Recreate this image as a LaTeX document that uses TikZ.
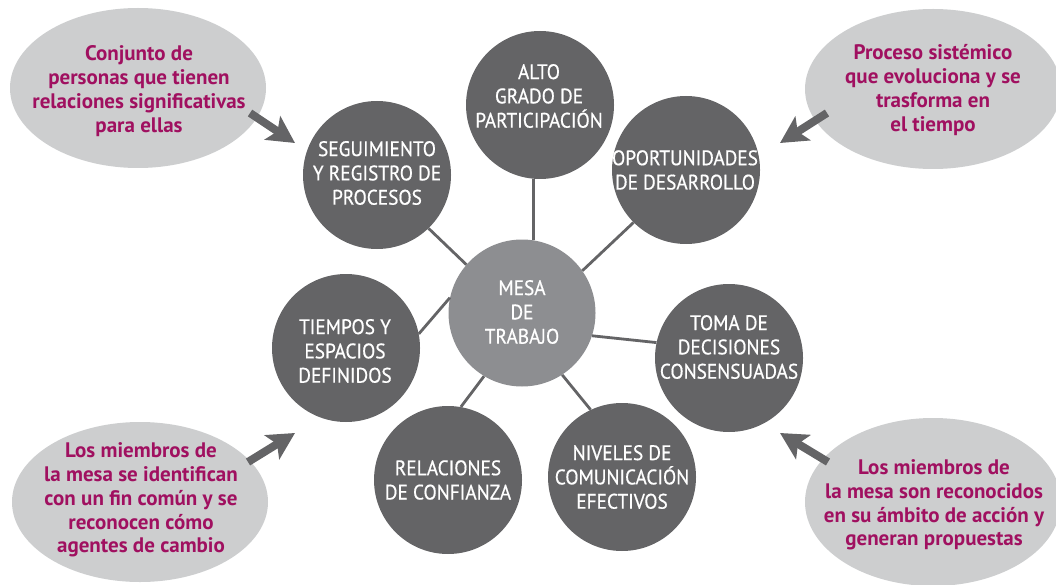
\documentclass[tikz,border=0pt]{standalone}
\usepackage{fontspec}
\setmainfont{PT Sans}
\newfontfamily\capsfont{PT Sans}[FakeStretch=0.92,FakeBold=0.6]
\usetikzlibrary{arrows.meta,shapes.geometric}
\definecolor{dk}{RGB}{100,100,102}
\definecolor{md}{RGB}{141,142,145}
\definecolor{lt}{RGB}{205,206,207}
\definecolor{mg}{RGB}{160,16,96}
\begin{document}
\begin{tikzpicture}[x=1pt,y=-1pt,
  circ/.style={circle,fill=dk,minimum size=148pt,inner sep=0pt},
  ctext/.style={text=white,align=center,inner sep=0pt,font=\capsfont\fontsize{21}{24.3}\selectfont},
  ell/.style={ellipse,fill=lt,minimum width=256pt,minimum height=160pt,inner sep=0pt},
  etext/.style={text=mg,align=center,inner sep=0pt,font=\bfseries\fontsize{21}{23.8}\selectfont},
  conn/.style={draw=dk,line width=2.8pt},
  bigarrow/.style={draw=dk,line width=8pt,-{Stealth[length=27pt,width=28pt,inset=6pt]}}
]
\useasboundingbox (0,0) rectangle (1056,585);
% ellipses
\node[ell] (etl) at (138,88) {};
\node[ell] (etr) at (933,89) {};
\node[ell] (ebl) at (140,502) {};
\node[ell,minimum height=168pt] (ebr) at (933,502) {};
\node[etext] (etlt) at (139,91) {Conjunto de\\personas que tienen\\relaciones significativas\\para ellas};
\node[etext] (etrt) at (933,90) {Proceso sistémico\\que evoluciona y se\\trasforma en\\el tiempo};
\node[etext] (eblt) at (141,500) {Los miembros de\\la mesa se identifican\\con un fin común y se\\reconocen cómo\\agentes de cambio};
\node[etext] (ebrt) at (934,505) {Los miembros de\\la mesa son reconocidos\\en su ámbito de acción y\\generan propuestas};
% arrows
\coordinate (a1s) at (250,113); \coordinate (a1e) at (295,143);
\coordinate (a2s) at (827,113); \coordinate (a2e) at (780,143);
\coordinate (a3s) at (248,462); \coordinate (a3e) at (295,433);
\coordinate (a4s) at (828,462); \coordinate (a4e) at (780,433);
\draw[bigarrow] (a1s) -- (a1e);
\draw[bigarrow] (a2s) -- (a2e);
\draw[bigarrow] (a3s) -- (a3e);
\draw[bigarrow] (a4s) -- (a4e);
% circles
\node[circ,fill=md,minimum size=147pt] (mesa) at (522,313) {};
\node[circ] (alto) at (540,105) {};
\node[circ] (opp) at (686,170) {};
\node[circ] (toma) at (729,358) {};
\node[circ] (niv) at (622,477) {};
\node[circ] (rel) at (448,480) {};
\node[circ] (tie) at (346,348) {};
\node[circ] (seg) at (377,175) {};
% connectors
\draw[conn] (alto.-95) -- (mesa.81);
\draw[conn] (seg.-46) -- (mesa.139);
\draw[conn] (opp.-135) -- (mesa.35);
\draw[conn] (tie.11) -- (mesa.168);
\draw[conn] (toma.168) -- (mesa.-18);
\draw[conn] (rel.80) -- (mesa.-121);
\draw[conn] (niv.115) -- (mesa.-57);
% texts
\node[ctext] (mesat) at (522,312) {MESA\\DE\\TRABAJO};
\node[ctext] (altot) at (539,96) {ALTO\\GRADO DE\\PARTICIPACIÓN};
\node[ctext] (oppt) at (685,170) {OPORTUNIDADES\\DE DESARROLLO};
\node[ctext] (tomat) at (729,347) {TOMA DE\\DECISIONES\\CONSENSUADAS};
\node[ctext] (nivt) at (622,477) {NIVELES DE\\COMUNICACIÓN\\EFECTIVOS};
\node[ctext] (relt) at (448,480) {RELACIONES\\DE CONFIANZA};
\node[ctext] (tiet) at (345,351) {TIEMPOS Y\\ESPACIOS\\DEFINIDOS};
\node[ctext] (segt) at (377,173) {SEGUIMIENTO\\Y REGISTRO DE\\PROCESOS};
\end{tikzpicture}
\end{document}
